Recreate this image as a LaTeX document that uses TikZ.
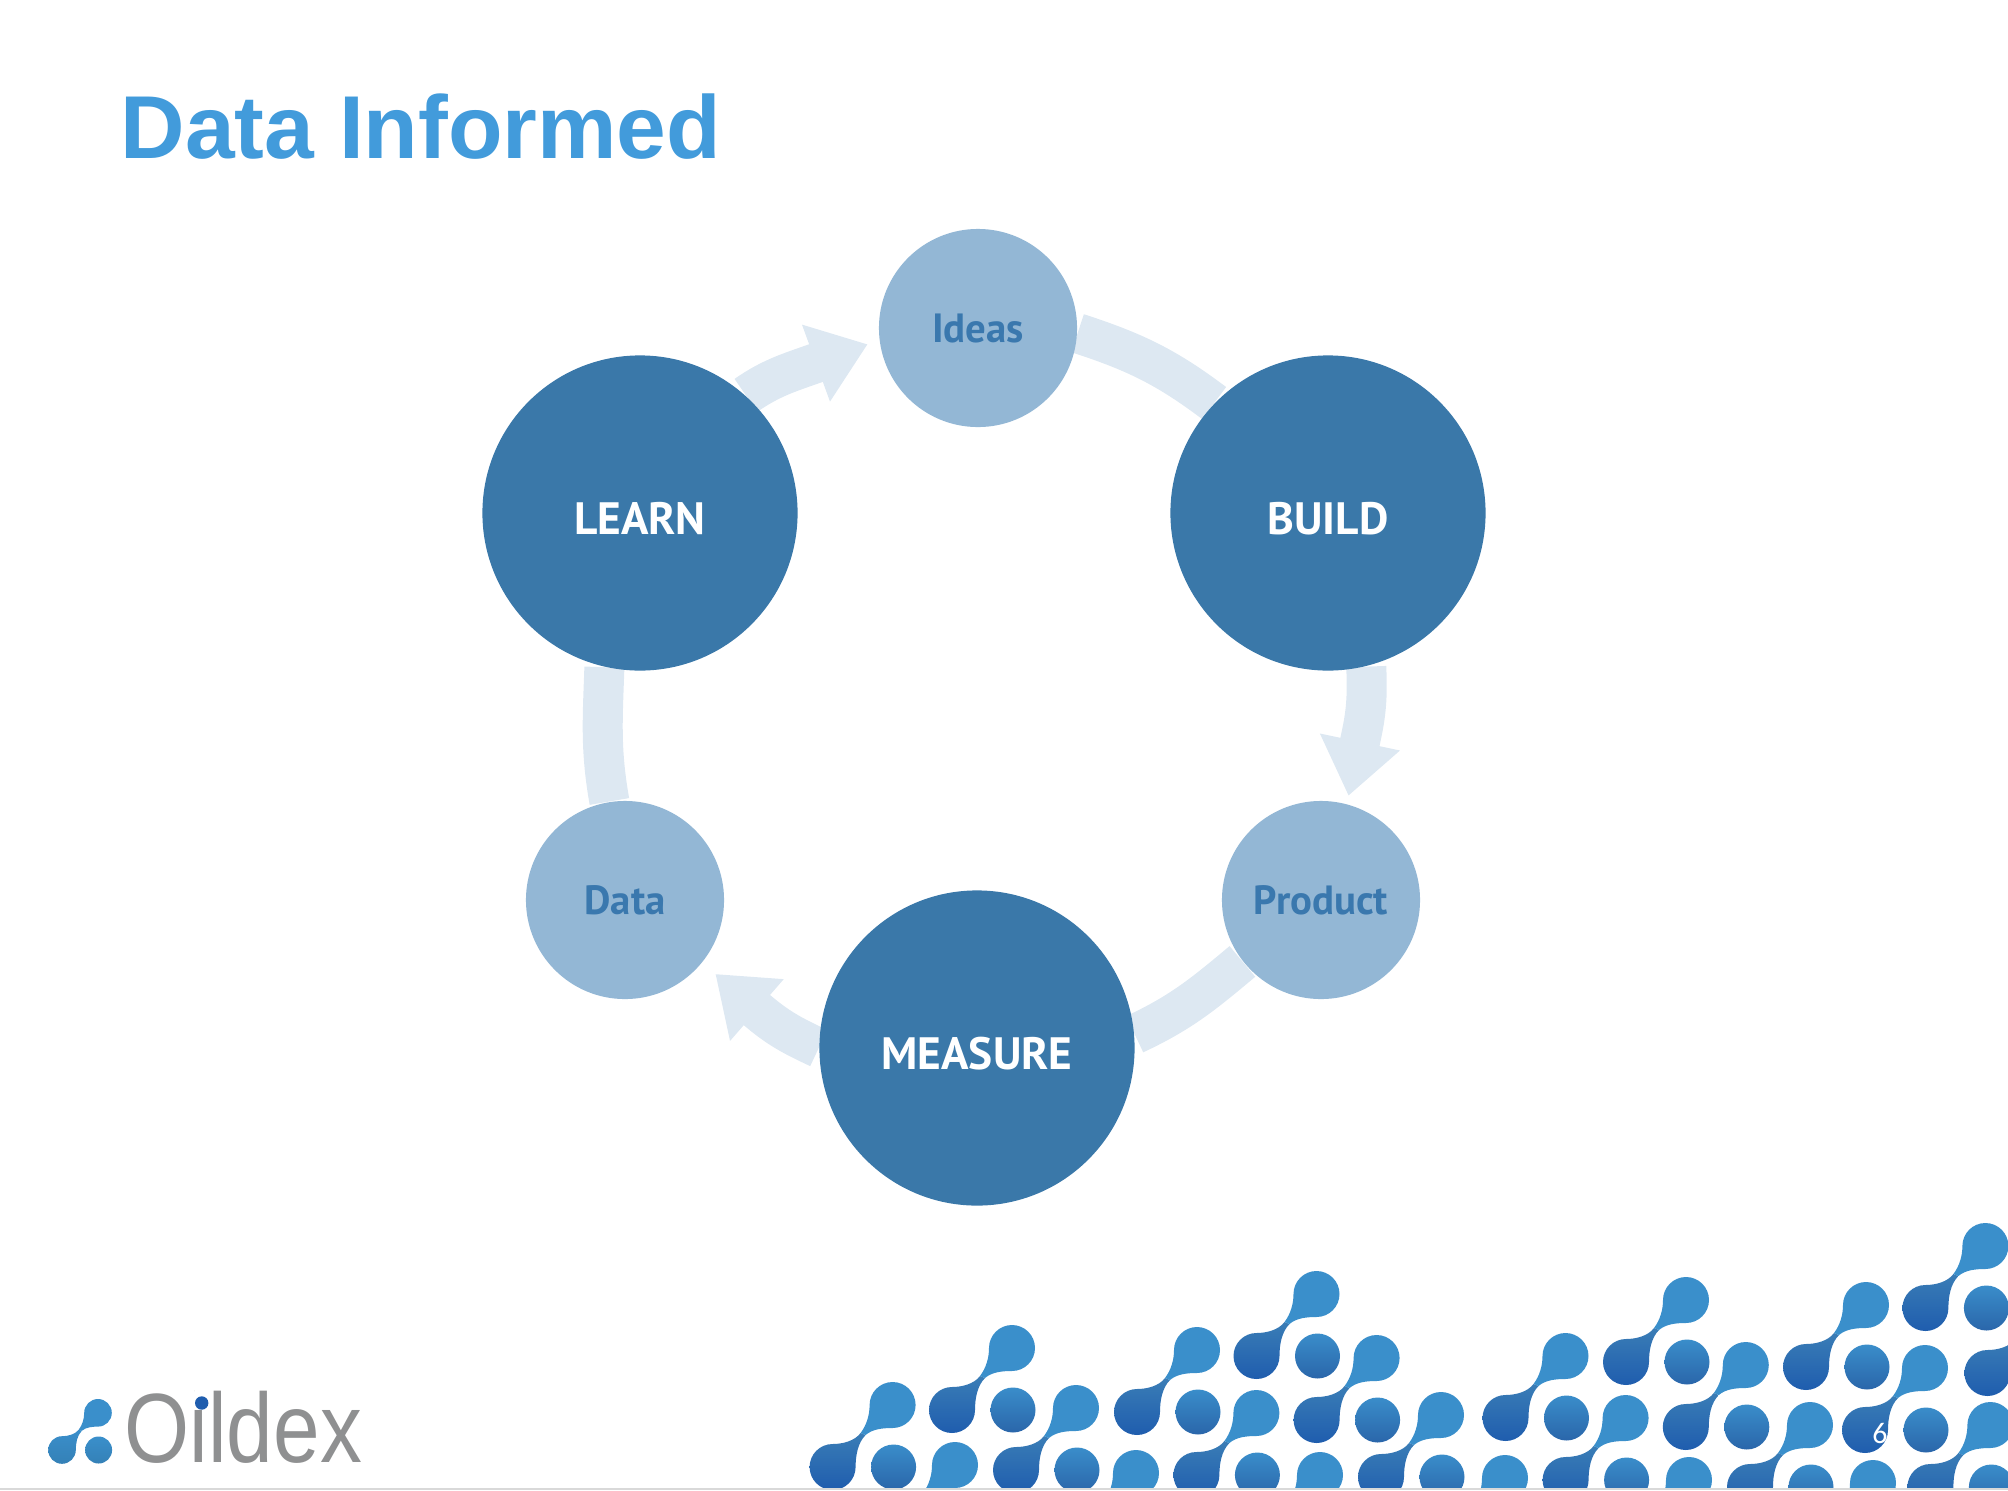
\documentclass[tikz,border=0pt]{standalone}
\usepackage{fontspec}
\setmainfont{Liberation Sans}
\newfontfamily\labelfont{PT Sans}
\newfontfamily\pagefont{Carlito}
\usetikzlibrary{calc,arrows.meta,backgrounds}
\definecolor{titleblue}{HTML}{429BDB}
\definecolor{darkring}{HTML}{3A78A9}
\definecolor{lightring}{HTML}{93B7D5}
\definecolor{bandblue}{HTML}{DDE8F2}
\definecolor{idealabel}{HTML}{3A78AE}
\definecolor{logogrey}{HTML}{8F9091}
\definecolor{blobtop}{HTML}{3A7DB6}
\definecolor{blobbottom}{HTML}{1F5DAE}
\definecolor{blobflat}{HTML}{3A8FCB}
\definecolor{spottop}{HTML}{3A8DCA}
\definecolor{spotbottom}{HTML}{2A66AA}

\tikzset{
    motif/.pic={
        \shade[top color=blobtop,bottom color=blobbottom] (0,23) .. controls (10,23) and (22,26) .. (28,34) -- (33,32) .. controls (25,24) and (23,11) .. (23,0) arc[start angle=0,end angle=-270,radius=23] -- cycle;
        \fill[blobflat] (60,39) .. controls (50,39) and (40,38) .. (33,32) -- (28,34) .. controls (34,42) and (37,52) .. (37,62) arc[start angle=180,end angle=-90,radius=23] -- cycle;
        \shade[top color=spottop,bottom color=spotbottom] (61,0) circle (22.5);
    }
}

\begin{document}
\begin{tikzpicture}[x=0.01cm,y=0.01cm,
    bigring/.style={circle, fill=darkring, text=white, minimum size=3.15cm, inner sep=0pt, text height=12pt, text depth=0pt, font=\labelfont\bfseries\fontsize{12.9}{12.9}\selectfont},
    smallring/.style={circle, fill=lightring, text=idealabel, minimum size=1.98cm, inner sep=0pt, text height=8.5pt, text depth=0pt, font=\labelfont\bfseries\fontsize{11.6}{11.6}\selectfont},
    band/.style={draw=bandblue, line width=.4cm},
    >={Triangle[length=.55cm,width=.78cm]}]
    \useasboundingbox (0,0) rectangle (2008,-1490);
    % Title
    \node[anchor=base west, inner sep=0pt, text=titleblue, font=\bfseries\fontsize{25.4}{25.4}\selectfont] (title) at (120,-158) {Data Informed};
    % Nodes
    \node[smallring] (ideas) at (978,-328) {Ideas};
    \node[bigring] (build) at (1328,-513) {BUILD};
    \node[smallring] (product) at (1321,-900) {Product};
    \node[bigring] (measure) at (977,-1048) {MEASURE};
    \node[smallring] (data) at (625,-900) {Data};
    \node[bigring] (learn) at (640,-513) {LEARN};
    % Arrows
    \begin{scope}[on background layer]
        \draw[band] (ideas.-3) to[out=-18,in=143] (build.136);
        \draw[band,->,shorten >=.08cm] (build.-76) to[out=-88,in=78] ($(product.75)+(78:70)$) -- (product.75);
        \draw[band] (product.218) to[out=-140,in=25] (measure.5);
        \draw[band,->,shorten >=.17cm] (measure.180) to[out=155,in=-41] ($(data.-39)+(-41:70)$) -- (data.-39);
        \draw[band] (data.99) to[out=100,in=-92] (learn.-103);
        \draw[band,->,shorten >=.12cm] (learn.48) to[out=35,in=200] ($(ideas.187)+(200:60)$) -- (ideas.187);
    \end{scope}
    % Pattern
    \begin{scope}
        \clip (0,-1488) rectangle (2008,-1100);
        \foreach \px/\py in {832.6/1467,952/1410,895/1527,1016/1470,1076/1535,1137/1412,1256.5/1356,1196.4/1475,
            1316.6/1420,1260/1537,1381/1477,1505.5/1418,1445/1540,1565.6/1480,1626/1362,1685.8/1427,
            1629/1542,1750/1487,1806/1367,1865/1430,1813/1545,1925.4/1308,1930.4/1487,1987.4/1373}
            \pic at (\px,-\py) {motif};
    \end{scope}
    \draw[black!15] (0,-1489) -- (2008,-1489);
    % Page number
    \node[text=white, inner sep=0pt, font=\pagefont\fontsize{8.5}{8.5}\selectfont] (pagenum) at (1880,-1433) {6};
    % Logo
    \begin{scope}
        \colorlet{blobtop}{blobflat}
        \colorlet{blobbottom}{blobflat!90!black}
        \colorlet{spottop}{blobflat}
        \colorlet{spotbottom}{blobflat!90!black}
        \pic[scale=.6] at (62,-1450) {motif};
    \end{scope}
    \node[anchor=base west, inner sep=0pt, text=logogrey, font=\fontsize{28}{28}\selectfont] (oildex) at (124,-1462) {\scalebox{.85}[1]{Oildex}};
    \fill[white] (201.7,-1396) circle (9);
    \fill[blobbottom] (201.7,-1403) circle (6.7);
\end{tikzpicture}
\end{document}
